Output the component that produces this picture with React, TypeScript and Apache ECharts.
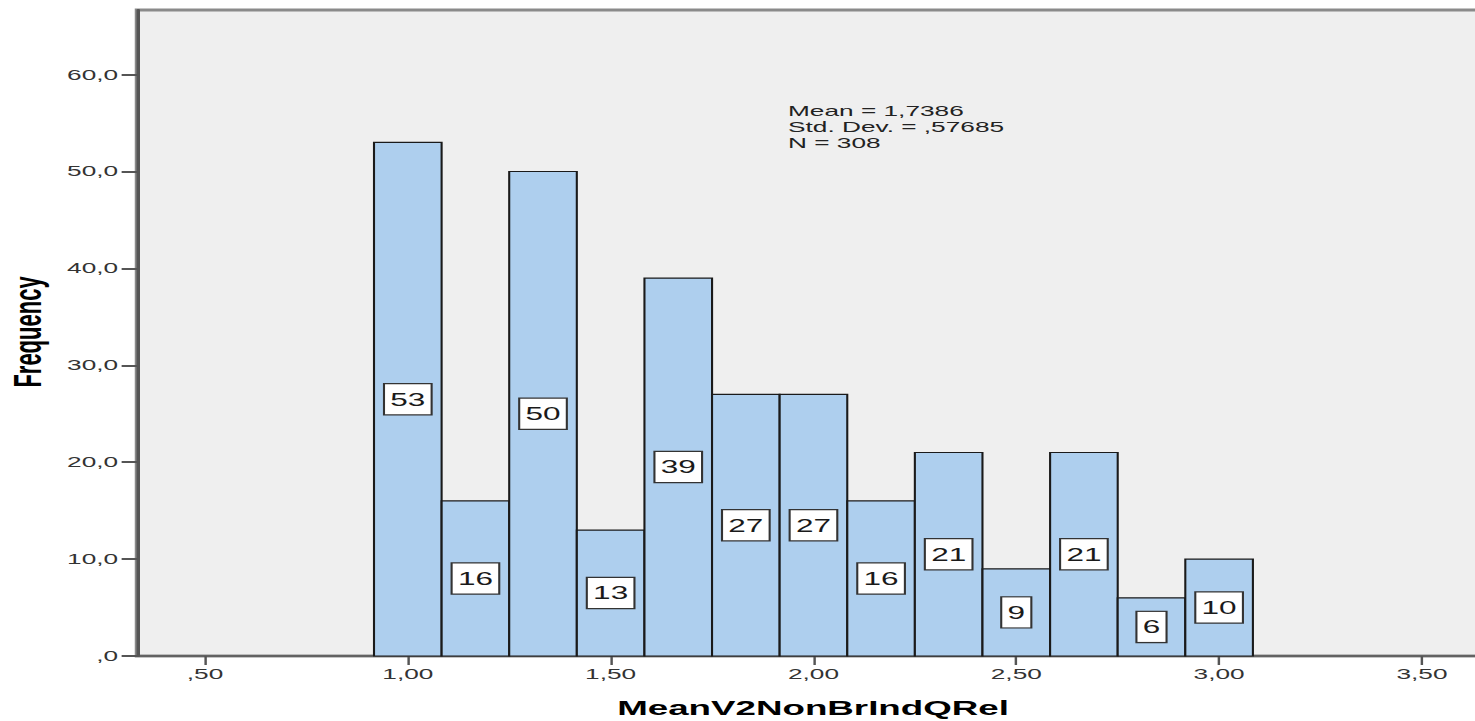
import React, { useEffect, useRef } from "react";
import * as echarts from "echarts";

// Histogram of MeanV2NonBrIndQRel (bins of width 1/6)
const binCenters = [1.0, 1.1667, 1.3333, 1.5, 1.6667, 1.8333, 2.0, 2.1667, 2.3333, 2.5, 2.6667, 2.8333, 3.0];
const binWidth = 1 / 6;
const frequencies = [53, 16, 50, 13, 39, 27, 27, 16, 21, 9, 21, 6, 10];

const xTicks = [0.5, 1.0, 1.5, 2.0, 2.5, 3.0, 3.5];
const yTicks = [0, 10, 20, 30, 40, 50, 60];

const statMean = "1,7386";
const statStdDev = ",57685";
const statN = "308";

const xTitle = "MeanV2NonBrIndQRel";
const yTitle = "Frequency";

// The chart is laid out at a narrower width and stretched horizontally;
// the plot runs past the right edge of the page.
const PAGE_H = 721;
const STRETCH = 1.75;
const CHART_W = 870;

const FONT = '"Liberation Sans", Arial, Helvetica, sans-serif';

const fmtComma = (v: number, digits: number) => {
  const s = v.toFixed(digits).replace(".", ",");
  return s.startsWith("0,") ? s.slice(1) : s;
};

export default function App() {
  const ref = useRef<HTMLDivElement>(null);

  useEffect(() => {
    if (!ref.current) return;
    const chart = echarts.init(ref.current, undefined, { renderer: "svg" });

    const gridLeft = 78.5;
    const xMin = 1 / 3;
    const xMax = 11 / 3;
    const pxPerUnit = 231.8;
    const gridRight = CHART_W - (gridLeft + (xMax - xMin) * pxPerUnit);

    chart.setOption({
      animation: false,
      backgroundColor: "#ffffff",
      grid: {
        left: gridLeft,
        right: gridRight,
        top: 10,
        bottom: 65,
        show: true,
        backgroundColor: "#efefef",
        borderColor: "#8a8a8a",
        borderWidth: 3,
      },
      xAxis: {
        type: "value",
        min: xMin,
        max: xMax,
        axisLine: { show: true, onZero: false, lineStyle: { color: "#555555", width: 1.6 } },
        axisTick: {
          show: true,
          customValues: xTicks,
          length: 9,
          lineStyle: { color: "#555555", width: 1.4 },
        },
        axisLabel: {
          customValues: xTicks,
          formatter: (v: number) => fmtComma(v, 2),
          fontSize: 15,
          fontFamily: FONT,
          color: "#333333",
          margin: 11,
        },
        splitLine: { show: false },
      },
      yAxis: {
        type: "value",
        min: 0,
        max: 66.67,
        axisLine: { show: true, lineStyle: { color: "#555555", width: 2 } },
        axisTick: {
          show: true,
          customValues: yTicks,
          length: 9,
          lineStyle: { color: "#555555", width: 2 },
        },
        axisLabel: {
          customValues: yTicks,
          formatter: (v: number) => fmtComma(v, 1),
          fontSize: 15,
          fontFamily: FONT,
          color: "#333333",
          margin: 11,
        },
        splitLine: { show: false },
      },
      series: [
        {
          type: "custom",
          data: binCenters.map((c, i) => [c, frequencies[i]]),
          renderItem: (_params: any, api: any) => {
            const c = api.value(0);
            const f = api.value(1);
            const p0 = api.coord([c - binWidth / 2, f]);
            const p1 = api.coord([c + binWidth / 2, 0]);
            return {
              type: "group",
              children: [
                {
                  type: "rect",
                  shape: { x: p0[0], y: p0[1], width: p1[0] - p0[0], height: p1[1] - p0[1] },
                  style: { fill: "#aecfee", stroke: "#1a1a1a", lineWidth: 1.2 },
                },
                {
                  type: "text",
                  x: (p0[0] + p1[0]) / 2,
                  y: (p0[1] + p1[1]) / 2,
                  style: {
                    text: String(f),
                    align: "center",
                    verticalAlign: "middle",
                    fill: "#1a1a1a",
                    fontSize: 18,
                    fontFamily: FONT,
                    lineHeight: 18,
                    backgroundColor: "#ffffff",
                    borderColor: "#333333",
                    borderWidth: 1.2,
                    padding: [6, 3, 6, 3],
                  },
                },
              ],
            };
          },
        },
      ],
      graphic: [
        {
          type: "text",
          x: 16.3,
          y: 332,
          rotation: Math.PI / 2,
          style: {
            text: yTitle,
            align: "center",
            verticalAlign: "middle",
            fill: "#000000",
            font: `bold 22px ${FONT}`,
          },
        },
        {
          type: "text",
          x: 464.6,
          y: 708,
          style: {
            text: xTitle,
            align: "center",
            verticalAlign: "middle",
            fill: "#000000",
            font: `bold 21px ${FONT}`,
          },
        },
        {
          type: "text",
          x: 450.3,
          y: 103.4,
          style: {
            text: `Mean = ${statMean}\nStd. Dev. = ${statStdDev}\nN = ${statN}`,
            align: "left",
            verticalAlign: "top",
            fill: "#222222",
            font: `15px ${FONT}`,
            lineHeight: 15.7,
          },
        },
      ],
    });

    return () => chart.dispose();
  }, []);

  return (
    <div
      ref={ref}
      style={{
        position: "fixed",
        left: 0,
        top: 0,
        width: CHART_W,
        height: PAGE_H,
        transform: `scaleX(${STRETCH})`,
        transformOrigin: "0 0",
      }}
    />
  );
}
